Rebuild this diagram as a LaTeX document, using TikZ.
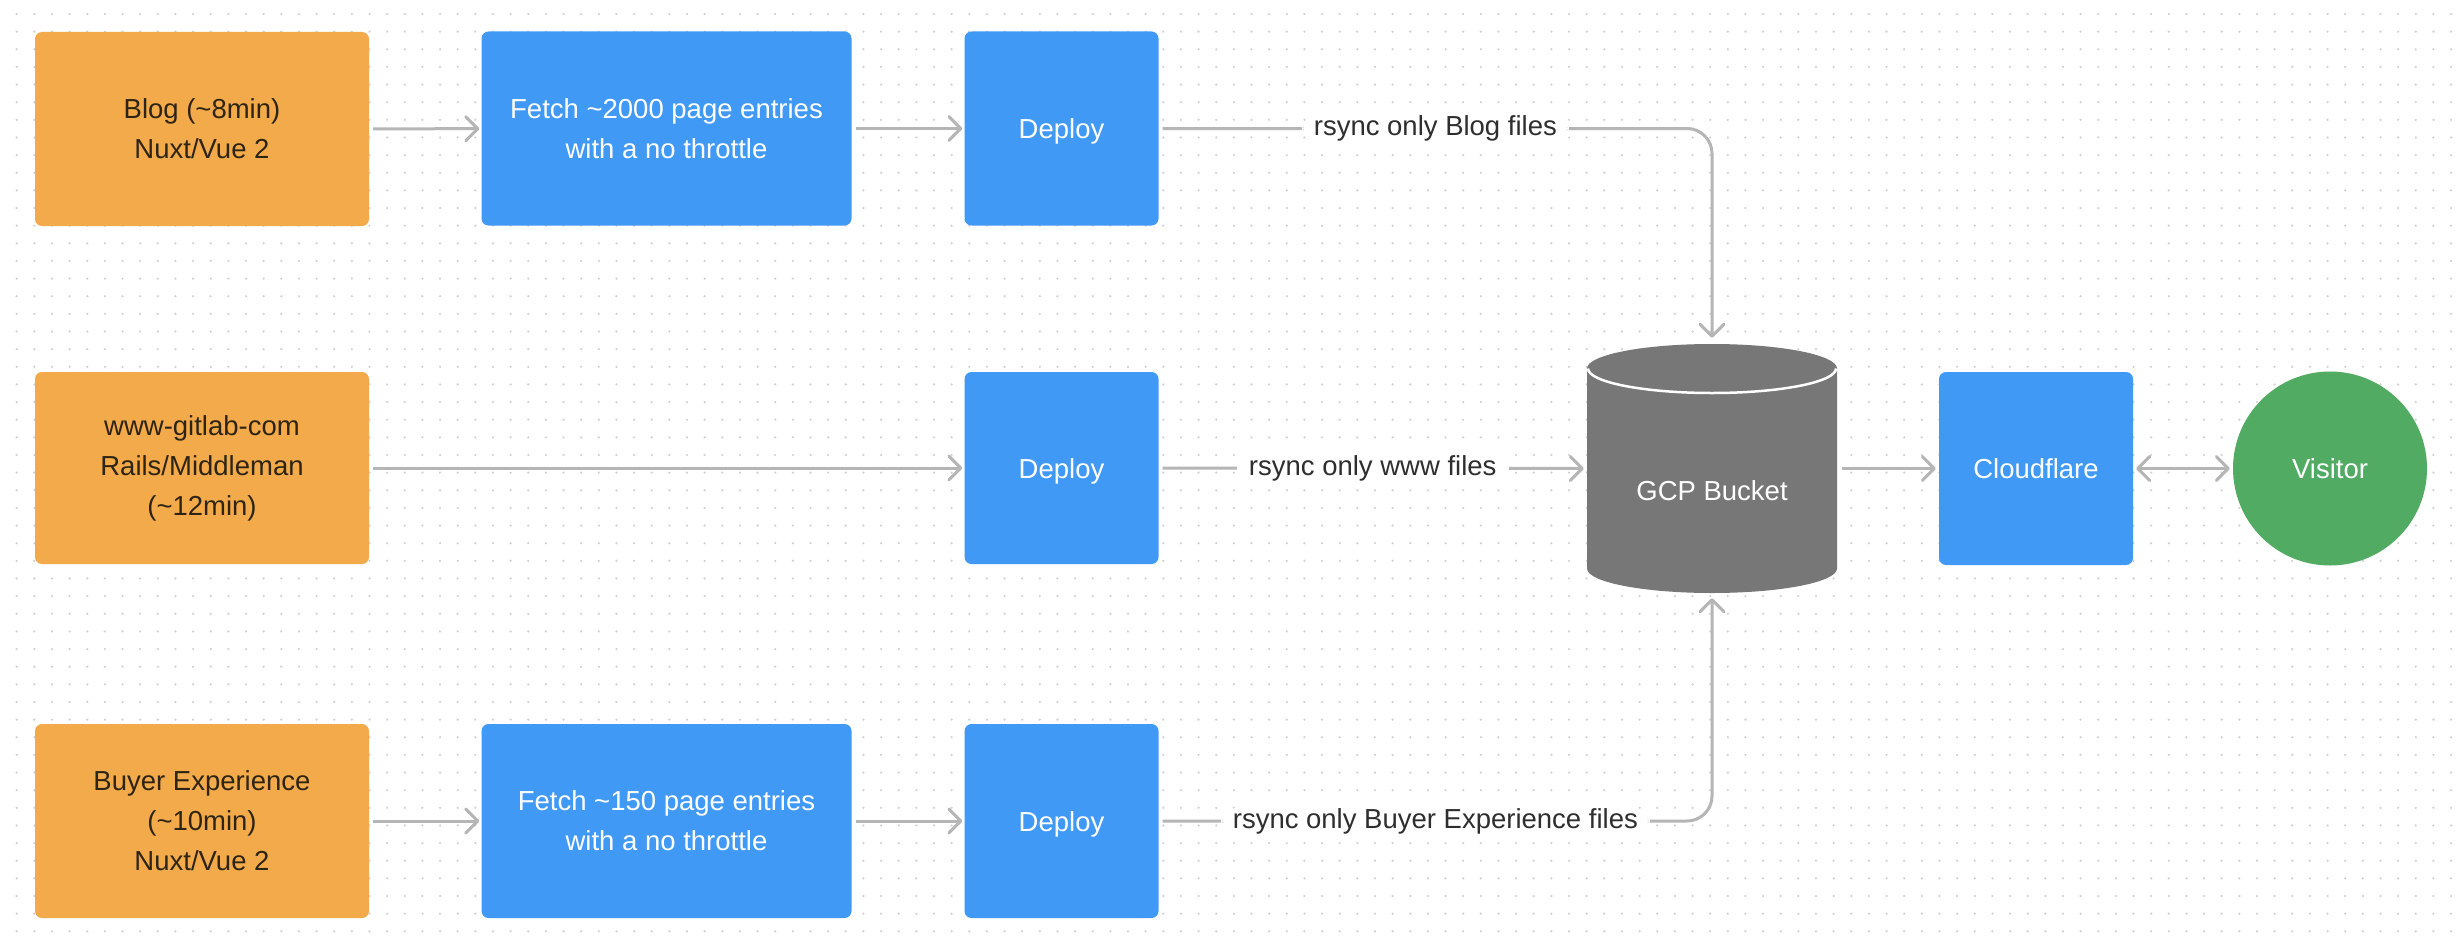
\documentclass[tikz,border=0pt]{standalone}
\usepackage{fontspec}
\setmainfont{Liberation Sans}
\usetikzlibrary{arrows.meta}
\definecolor{orng}{HTML}{F3AA4B}
\definecolor{blu}{HTML}{4199F6}
\definecolor{cylc}{HTML}{777777}
\definecolor{grn}{HTML}{51AB63}
\definecolor{arr}{HTML}{B5B5B5}
\definecolor{srctext}{HTML}{2E2413}
\definecolor{lbltext}{HTML}{2E2E2E}
\definecolor{dotc}{HTML}{D2D2D2}
\begin{document}
\begin{tikzpicture}[x=1pt,y=1pt,
  basefont/.style={font=\fontsize{27.5}{40}\selectfont},
  srcbox/.style={basefont, fill=orng, text=srctext, rounded corners=7pt, minimum width=334pt, minimum height=194pt, align=center, inner sep=0pt},
  procbox/.style={basefont, fill=blu, text=white, rounded corners=7pt, minimum height=194pt, align=center, inner sep=0pt},
  onebox/.style={procbox, text height=20pt, text depth=0pt},
  conn/.style={draw=arr, line width=3pt, shorten <=4pt, -{Straight Barb[length=12pt,width=24pt,round]}},
  lbl/.style={basefont, fill=white, text=lbltext, inner xsep=12pt, inner ysep=3pt},
  dotrow/.style={draw=dotc, line width=2.5pt, line cap=round, dash pattern=on 0pt off 17.64pt}]
\useasboundingbox (0,0) rectangle (2462,-942);
\fill[white] (0,0) rectangle (2462,-942);
% dot grid
\foreach \j in {0,...,53}{
  \draw[dotrow] (16.7,{-14-\j*17.64}) -- (2462,{-14-\j*17.64});
}
% row 1
\node[srcbox] (blog) at (202,-129) {Blog (\textasciitilde 8min)\\Nuxt/Vue 2};
\node[procbox, minimum width=370pt] (fetch1) at (666.5,-128.5) {Fetch \textasciitilde 2000 page entries\\with a no throttle};
\node[onebox, minimum width=194pt] (dep1) at (1061.5,-128.5) {Deploy};
% row 2
\node[srcbox, minimum height=192pt] (www) at (202,-468) {www-gitlab-com\\Rails/Middleman\\(\textasciitilde 12min)};
\node[onebox, minimum width=194pt, minimum height=192pt] (dep2) at (1061.5,-468) {Deploy};
% row 3
\node[srcbox] (buyer) at (202,-821) {Buyer Experience\\(\textasciitilde 10min)\\Nuxt/Vue 2};
\node[procbox, minimum width=370pt] (fetch2) at (666.5,-821) {Fetch \textasciitilde 150 page entries\\with a no throttle};
\node[onebox, minimum width=194pt] (dep3) at (1061.5,-821) {Deploy};
% GCP bucket cylinder
\node[minimum width=250pt, minimum height=249pt, inner sep=0pt] (gcp) at (1712,-468.5) {};
\fill[cylc] (1587,-368.5) -- (1587,-568.5) arc[start angle=180, end angle=360, x radius=125, y radius=24.5]
  -- (1837,-368.5) arc[start angle=0, end angle=180, x radius=125, y radius=24.5] -- cycle;
\draw[white, line width=2.5pt] (1588,-368.5) arc[start angle=180, end angle=360, x radius=124, y radius=24.5];
\node[basefont, text=white] (gcplabel) at (1712,-491) {GCP Bucket};
% Cloudflare and Visitor
\node[onebox, minimum width=194pt, minimum height=193pt] (cf) at (2036,-468.5) {Cloudflare};
\node[basefont, circle, fill=grn, text=white, minimum size=194pt, inner sep=0pt] (vis) at (2330,-468.5) {Visitor};
% connectors
\draw[conn, shorten >=2pt] (blog) -- (fetch1);
\draw[conn, shorten >=2pt] (fetch1) -- (dep1);
\draw[conn, shorten >=6pt, rounded corners=25pt] (dep1.east) -- node[lbl] {rsync only Blog files} (gcp.north |- dep1.east) -- (gcp.north);
\draw[conn, shorten >=2pt] (www) -- (dep2);
\draw[conn, shorten >=3pt] (dep2) -- node[lbl] {rsync only www files} (gcp.west);
\draw[conn, shorten >=2pt] (buyer) -- (fetch2);
\draw[conn, shorten >=2pt] (fetch2) -- (dep3);
\draw[conn, shorten >=5pt, rounded corners=25pt] (dep3.east) -- node[lbl] {rsync only Buyer Experience files} (gcp.south |- dep3.east) -- (gcp.south);
\draw[conn, shorten <=5pt, shorten >=3pt] (gcp.east) -- (cf.west);
\draw[conn, shorten <=3pt, shorten >=3pt, {Straight Barb[length=12pt,width=24pt,round]}-{Straight Barb[length=12pt,width=24pt,round]}] (cf.east) -- (vis.west);
\end{tikzpicture}
\end{document}
